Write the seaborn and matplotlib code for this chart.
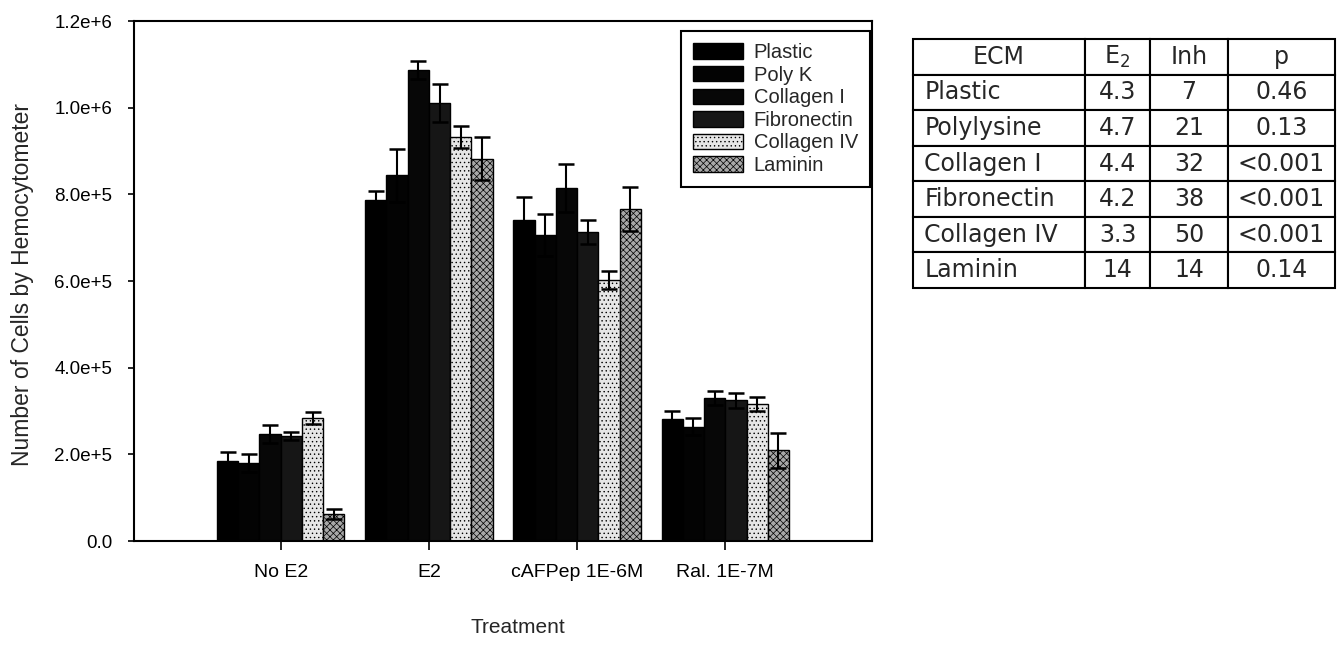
import numpy as np
import pandas as pd
import matplotlib
matplotlib.use("Agg")
import matplotlib.pyplot as plt
import seaborn as sns

# ---- data ----
treatments = ["No E2", "E2", "cAFPep 1E-6M", "Ral. 1E-7M"]
ecm = ["Plastic", "Poly K", "Collagen I", "Fibronectin", "Collagen IV", "Laminin"]
plastic = [1.85e5, 7.87e5, 7.41e5, 2.82e5]
polyk = [1.80e5, 8.44e5, 7.06e5, 2.64e5]
collagen1 = [2.47e5, 1.087e6, 8.15e5, 3.30e5]
fibronectin = [2.42e5, 1.011e6, 7.13e5, 3.25e5]
collagen4 = [2.84e5, 9.32e5, 6.02e5, 3.17e5]
laminin = [6.2e4, 8.82e5, 7.66e5, 2.09e5]
err_plastic = [2.0e4, 2.1e4, 5.3e4, 1.8e4]
err_polyk = [2.0e4, 6.1e4, 4.9e4, 2.0e4]
err_collagen1 = [2.1e4, 2.1e4, 5.5e4, 1.6e4]
err_fibronectin = [1.0e4, 4.4e4, 2.8e4, 1.7e4]
err_collagen4 = [1.4e4, 2.6e4, 2.1e4, 1.6e4]
err_laminin = [1.2e4, 5.0e4, 5.1e4, 4.0e4]

table_cols = ["ECM", "E$_2$", "Inh", "p"]
table_ecm = ["Plastic", "Polylysine", "Collagen I", "Fibronectin", "Collagen IV", "Laminin"]
table_e2 = ["4.3", "4.7", "4.4", "4.2", "3.3", "14"]
table_inh = ["7", "21", "32", "38", "50", "14"]
table_p = ["0.46", "0.13", "<0.001", "<0.001", "<0.001", "0.14"]

values = [plastic, polyk, collagen1, fibronectin, collagen4, laminin]
errors = [err_plastic, err_polyk, err_collagen1, err_fibronectin, err_collagen4, err_laminin]

rows = []
for name, vals in zip(ecm, values):
    for t, v in zip(treatments, vals):
        rows.append({"Treatment": t, "ECM": name, "Cells": v})
df = pd.DataFrame(rows)

# ---- style ----
sns.set_style("ticks")
plt.rcParams["font.family"] = ["Liberation Sans", "DejaVu Sans"]
plt.rcParams["hatch.linewidth"] = 0.5

fig = plt.figure(figsize=(13.39, 6.48), dpi=100)
ax = fig.add_axes([134 / 1339, 1 - 541 / 648, 738 / 1339, 520 / 648])

colors = ["#000000", "#030303", "#070707", "#161616", "#e6e6e6", "#a8a8a8"]
hatches = [None, None, None, None, "....", "xxxxx"]

sns.barplot(data=df, x="Treatment", y="Cells", hue="ECM", order=treatments,
            hue_order=ecm, palette=colors, saturation=1, width=0.86,
            errorbar=None, edgecolor="black", linewidth=1.0, ax=ax)

bar_containers = list(ax.containers)
for i, cont in enumerate(bar_containers):
    for j, bar in enumerate(cont):
        if hatches[i]:
            bar.set_hatch(hatches[i])
        xc = bar.get_x() + bar.get_width() / 2
        ax.errorbar(xc, values[i][j], yerr=errors[i][j], color="black",
                    capsize=5.5, capthick=1.8, elinewidth=1.5, zorder=5)

ax.set_xlim(-0.99, 3.99)
ax.set_ylim(0, 1.2e6)
ax.set_yticks(np.arange(0, 1.21e6, 2e5))

def fmt(v, pos):
    if v == 0:
        return "0.0"
    m, e = f"{v:.1e}".split("e")
    return f"{m}e{int(e):+d}"

ax.yaxis.set_major_formatter(matplotlib.ticker.FuncFormatter(fmt))
ax.tick_params(axis="y", direction="out", length=4.5, width=1.2,
               labelsize=13.5, colors="black", pad=11)
ax.tick_params(axis="x", direction="out", length=6.5, width=1.2,
               labelsize=14, colors="black", pad=10)
for s in ax.spines.values():
    s.set_visible(True)
    s.set_color("black")
    s.set_linewidth(1.5)

ax.set_ylabel("Number of Cells by Hemocytometer", fontsize=16.5)
ax.yaxis.set_label_coords(-0.1355, 0.493)
ax.set_xlabel("Treatment", fontsize=15)
ax.xaxis.set_label_coords(0.52, -0.148)

handles, labels = ax.get_legend_handles_labels()
leg = ax.legend(handles[:6], labels[:6], loc="upper right", bbox_to_anchor=(0.9973, 0.981),
                frameon=True, fancybox=False, edgecolor="black", framealpha=1,
                fontsize=14.5, handlelength=2.45, handleheight=0.8,
                labelspacing=0.18, borderpad=0.6, handletextpad=0.55,
                borderaxespad=0.0)
leg.get_frame().set_linewidth(1.5)
for h, hp in zip(leg.legend_handles, hatches):
    if hp:
        h.set_hatch(hp)

# ---- table ----
tax = fig.add_axes([913 / 1339, 1 - 288 / 648, 422 / 1339, 249 / 648])
tax.axis("off")
cell_text = [list(r) for r in zip(table_ecm, table_e2, table_inh, table_p)]
tbl = tax.table(cellText=cell_text, colLabels=table_cols, bbox=[0, 0, 1, 1],
                colWidths=[172, 65, 78, 107], cellLoc="center")
tbl.auto_set_font_size(False)
for (r, c), cell in tbl.get_celld().items():
    cell.set_linewidth(1.5)
    cell.set_edgecolor("black")
    cell.get_text().set_fontsize(17)
    cell.get_text().set_fontfamily("DejaVu Sans")
    if c == 0 and r > 0:
        cell.get_text().set_ha("left")
        cell.PAD = 0.065

fig.savefig("out.png", dpi=100)
